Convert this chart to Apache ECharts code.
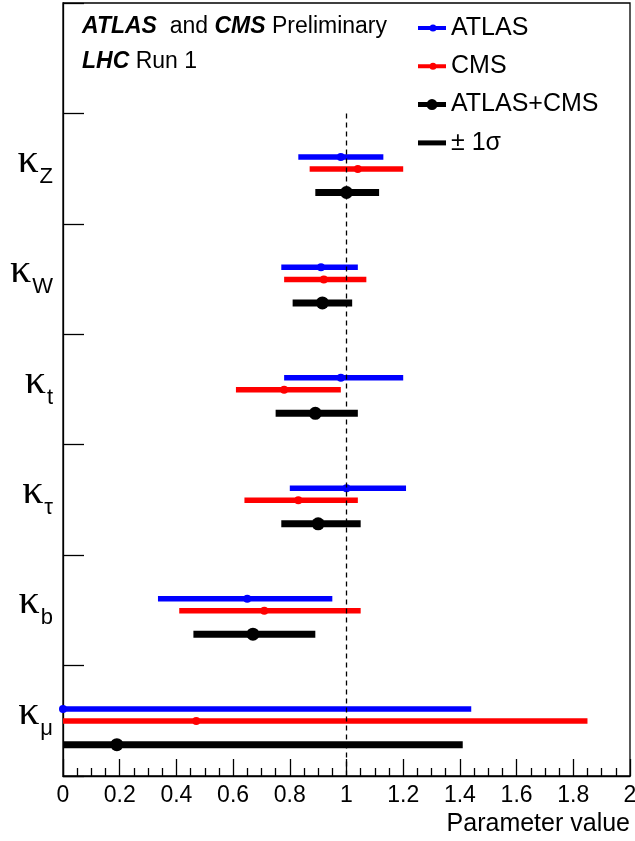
<!DOCTYPE html>
<html>
<head>
<meta charset="utf-8">
<script src="https://cdn.jsdelivr.net/npm/echarts@6/dist/echarts.min.js"></script>
<style>html,body{margin:0;padding:0;background:#fff;}#c{width:635px;height:841px;}</style>
</head>
<body>
<div id="c"></div>
<script>
// Categories (couplings), top to bottom
const categories = ['κZ', 'κW', 'κt', 'κτ', 'κb', 'κμ'];
// ATLAS
const atlasCentral = [0.98, 0.91, 0.98, 1.00, 0.65, 0.00];
const atlasLow     = [0.83, 0.77, 0.78, 0.80, 0.335, 0.00];
const atlasHigh    = [1.13, 1.04, 1.20, 1.21, 0.95, 1.44];
// CMS
const cmsCentral = [1.04, 0.92, 0.78, 0.83, 0.71, 0.47];
const cmsLow     = [0.87, 0.78, 0.61, 0.64, 0.41, 0.00];
const cmsHigh    = [1.20, 1.07, 0.98, 1.04, 1.05, 1.85];
// ATLAS+CMS combined
const combCentral = [1.00, 0.915, 0.89, 0.90, 0.67, 0.19];
const combLow     = [0.89, 0.81, 0.75, 0.77, 0.46, 0.00];
const combHigh    = [1.115, 1.02, 1.04, 1.05, 0.89, 1.41];
// x-axis
const xMin = 0, xMax = 2, xInterval = 0.2;

const FONT = 'Liberation Sans';
// layout: one empty slot on top, then one slot per category; offsets within slot
const rowOffset = { atlas: 0.394, cms: 0.503, comb: 0.716 };

function buildData(c, lo, hi, off) {
  return c.map((v, i) => [v, lo[i], hi[i], (i + 1) + off]);
}

function makeRender(color, lw, r) {
  return function (params, api) {
    const y = api.value(3);
    const c = api.coord([api.value(0), y]);
    const l = api.coord([api.value(1), y]);
    const h = api.coord([api.value(2), y]);
    return {
      type: 'group',
      children: [
        { type: 'line', shape: { x1: l[0], y1: l[1], x2: h[0], y2: h[1] }, style: { stroke: color, lineWidth: lw } },
        { type: 'circle', shape: { cx: c[0], cy: c[1], r: r }, style: { fill: color } }
      ]
    };
  };
}

const yCats = [''].concat(categories);

const chart = echarts.init(document.getElementById('c'), null, { renderer: 'canvas' });
const option = {
  animation: false,
  backgroundColor: '#fff',
  title: [
    {
      left: 82, top: 15, padding: 0,
      text: '{b|ATLAS}  and {b|CMS} Preliminary',
      textStyle: {
        fontFamily: FONT, fontSize: 23, fontWeight: 'normal', color: '#000', lineHeight: 24,
        rich: { b: { fontFamily: FONT, fontSize: 23, fontWeight: 'bold', fontStyle: 'italic', color: '#000', lineHeight: 24 } }
      }
    },
    {
      left: 82, top: 50, padding: 0,
      text: '{b|LHC} Run 1',
      textStyle: {
        fontFamily: FONT, fontSize: 23, fontWeight: 'normal', color: '#000', lineHeight: 24,
        rich: { b: { fontFamily: FONT, fontSize: 23, fontWeight: 'bold', fontStyle: 'italic', color: '#000', lineHeight: 24 } }
      }
    }
  ],
  legend: {
    orient: 'vertical', left: 418, top: 15, padding: 0,
    itemWidth: 28, itemHeight: 12, itemGap: 12.3,
    selectedMode: false,
    symbolKeepAspect: true,
    textStyle: { fontFamily: FONT, fontSize: 25, color: '#000', lineHeight: 26 },
    data: [
      { name: 'ATLAS', icon: 'path://M0,1.5H28V5.5H0Z M11.5,3.5A3.5,3.5 0 1 1 18.5,3.5A3.5,3.5 0 1 1 11.5,3.5Z' },
      { name: 'CMS', icon: 'path://M0,1.5H28V5.5H0Z M11.5,3.5A3.5,3.5 0 1 1 18.5,3.5A3.5,3.5 0 1 1 11.5,3.5Z' },
      { name: 'ATLAS+CMS', icon: 'path://M0,3H28V8H0Z M8.5,5.5A5.5,5.5 0 1 1 19.5,5.5A5.5,5.5 0 1 1 8.5,5.5Z' },
      { name: '± 1σ', icon: 'path://M0,0H28V5H0Z' }
    ]
  },
  grid: {
    left: 63, top: 3, width: 567, height: 773,
    show: true, borderColor: '#000', borderWidth: 1.3, backgroundColor: 'transparent',
    containLabel: false, outerBoundsMode: 'none'
  },
  xAxis: {
    type: 'value', min: xMin, max: xMax, interval: xInterval,
    axisLine: { show: true, onZero: false, lineStyle: { color: '#000', width: 1.3 } },
    axisTick: { show: true, inside: true, length: 17, lineStyle: { color: '#000', width: 1.3 } },
    minorTick: { show: true, splitNumber: 4, length: 8, lineStyle: { color: '#000', width: 1.3 } },
    splitLine: { show: false },
    axisLabel: { fontFamily: FONT, fontSize: 23, color: '#000', margin: 8, showMinLabel: true, showMaxLabel: true, hideOverlap: false },
    name: 'Parameter value',
    nameLocation: 'end', nameGap: 0, nameMoveOverlap: false,
    nameTextStyle: { fontFamily: FONT, fontSize: 25, color: '#000', align: 'right', verticalAlign: 'top', padding: [36, 0, 0, 0] }
  },
  yAxis: [
    {
      type: 'value', min: 0, max: 7, interval: 1, inverse: true,
      axisLine: { show: true, lineStyle: { color: '#000', width: 1.3 } },
      axisTick: { show: true, inside: true, length: 21, lineStyle: { color: '#000', width: 1.3 } },
      axisLabel: { show: false },
      splitLine: { show: false }
    },
    {
      type: 'category', data: yCats, inverse: true, position: 'left', boundaryGap: true,
      axisLine: { show: false }, axisTick: { show: false }, splitLine: { show: false },
      axisLabel: {
        margin: 10, interval: 0,
        formatter: function (v) {
          if (!v) return '';
          return '{k|' + v.charAt(0) + '}{s|' + v.slice(1) + '}';
        },
        rich: {
          k: { fontFamily: 'Liberation Serif', fontSize: 42, color: '#000', lineHeight: 30, padding: [0, 0, 16, 0] },
          s: { fontFamily: FONT, fontSize: 22, color: '#000', lineHeight: 30, padding: [16, 0, 0, 1] }
        }
      }
    }
  ],
  series: [
    {
      name: 'ATLAS', type: 'custom', clip: false, yAxisIndex: 0,
      itemStyle: { color: '#0000ff' },
      encode: { x: [0, 1, 2], y: 3 },
      renderItem: makeRender('#0000ff', 5.5, 4),
      data: buildData(atlasCentral, atlasLow, atlasHigh, rowOffset.atlas),
      markLine: {
        silent: true, symbol: 'none', label: { show: false },
        lineStyle: { color: '#000', type: [5, 4], width: 1.3 },
        data: [[{ coord: [1, 1] }, { coord: [1, 7] }]]
      }
    },
    {
      name: 'CMS', type: 'custom', clip: false, yAxisIndex: 0,
      itemStyle: { color: '#ff0000' },
      encode: { x: [0, 1, 2], y: 3 },
      renderItem: makeRender('#ff0000', 5.5, 4),
      data: buildData(cmsCentral, cmsLow, cmsHigh, rowOffset.cms)
    },
    {
      name: 'ATLAS+CMS', type: 'custom', clip: false, yAxisIndex: 0,
      itemStyle: { color: '#000000' },
      encode: { x: [0, 1, 2], y: 3 },
      renderItem: makeRender('#000000', 7, 6.5),
      data: buildData(combCentral, combLow, combHigh, rowOffset.comb)
    },
    {
      name: '± 1σ', type: 'custom', yAxisIndex: 0,
      itemStyle: { color: '#000000' },
      renderItem: function () { return null; },
      data: []
    }
  ]
};
chart.setOption(option);
</script>
</body>
</html>
